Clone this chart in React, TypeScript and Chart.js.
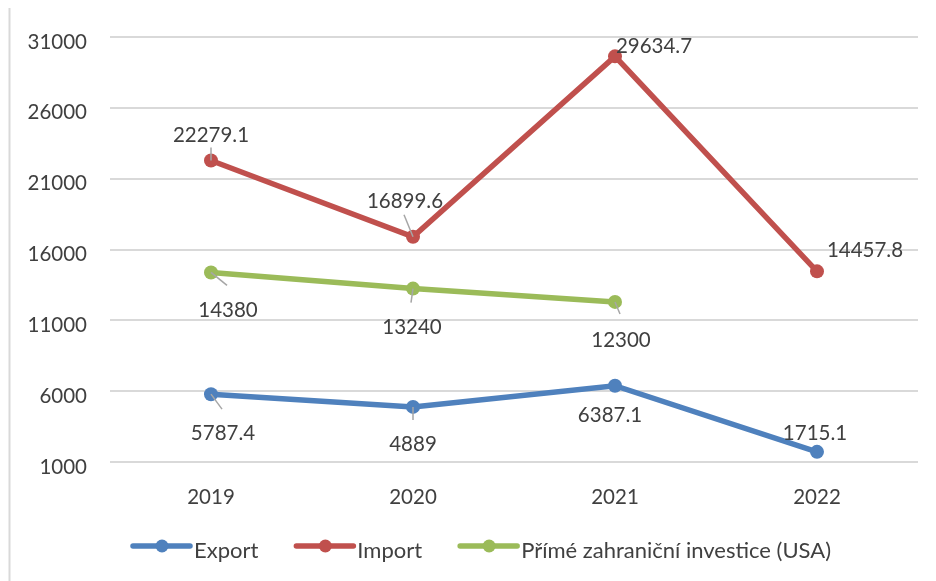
import React, { useEffect, useRef } from "react";
import { Chart, registerables } from "chart.js";

Chart.register(...registerables);

const categories = ["2019", "2020", "2021", "2022"];
const exportValues = [5787.4, 4889, 6387.1, 1715.1];
const importValues = [22279.1, 16899.6, 29634.7, 14457.8];
const fdiValues: (number | null)[] = [14380, 13240, 12300, null];
const seriesNames = ["Export", "Import", "Přímé zahraniční investice (USA)"];
const yTicks = [1000, 6000, 11000, 16000, 21000, 26000, 31000];

const COLORS = ["#4F81BD", "#C0504D", "#9BBB59"];
const TEXT = "#404040";
const FONT = "Lato";

// label placement (centre offset from point) and optional leader end offset
const labelOffsets: [number, number][][] = [
  [[12, 39], [0, 37], [-5, 30], [-2, -18]],
  [[0, -25], [-8, -35], [39, -10], [48, -21]],
  [[17, 38], [-1, 39], [6, 38], [0, 0]],
];
const leaderEnds: ([number, number] | null)[][] = [
  [[11, 15], [0, 13], null, null],
  [[0, -13], [-9, -22], null, null],
  [[16, 13], [-2, 14], [5, 12], null],
];

const fmt = (v: number) => String(v);

const decorPlugin = {
  id: "decor",
  beforeDraw(chart: any) {
    const ctx = chart.ctx;
    ctx.save();
    ctx.strokeStyle = "#D9D9D9";
    ctx.lineWidth = 2;
    ctx.beginPath();
    ctx.moveTo(9.5, 8);
    ctx.lineTo(9.5, 581);
    ctx.stroke();
    ctx.restore();
  },
  afterDatasetsDraw(chart: any) {
    const ctx = chart.ctx;
    ctx.save();
    chart.data.datasets.forEach((ds: any, i: number) => {
      const meta = chart.getDatasetMeta(i);
      meta.data.forEach((pt: any, j: number) => {
        const v = ds.data[j];
        if (v === null || v === undefined) return;
        const le = leaderEnds[i][j];
        if (le) {
          ctx.strokeStyle = "#A6A6A6";
          ctx.lineWidth = 1.5;
          ctx.beginPath();
          ctx.moveTo(pt.x, pt.y);
          ctx.lineTo(pt.x + le[0], pt.y + le[1]);
          ctx.stroke();
        }
        const off = labelOffsets[i][j];
        ctx.fillStyle = TEXT;
        ctx.font = `20.5px ${FONT}`;
        ctx.textAlign = "center";
        ctx.textBaseline = "middle";
        ctx.fillText(fmt(v), pt.x + off[0], pt.y + off[1]);
      });
    });
    ctx.restore();
  },
  afterDraw(chart: any) {
    const ctx = chart.ctx;
    ctx.save();
    ctx.font = `22px ${FONT}`;
    let x = 133;
    const lineY = 546;
    const textY = 551;
    seriesNames.forEach((name, i) => {
      ctx.strokeStyle = COLORS[i];
      ctx.lineWidth = 5.5;
      ctx.lineCap = "round";
      ctx.beginPath();
      ctx.moveTo(x, lineY);
      ctx.lineTo(x + 57, lineY);
      ctx.stroke();
      ctx.fillStyle = COLORS[i];
      ctx.beginPath();
      ctx.arc(x + 29, lineY, 6.5, 0, Math.PI * 2);
      ctx.fill();
      ctx.fillStyle = TEXT;
      ctx.textAlign = "left";
      ctx.textBaseline = "middle";
      ctx.fillText(name, x + 61, textY);
      const w = ctx.measureText(name).width;
      x += 61 + w + 38;
    });
    ctx.restore();
  },
};

export default function App() {
  const ref = useRef<HTMLCanvasElement | null>(null);
  useEffect(() => {
    if (!ref.current) return;
    const mkDs = (label: string, data: (number | null)[], color: string) => ({
      label,
      data,
      borderColor: color,
      backgroundColor: color,
      borderWidth: 5.5,
      pointRadius: 7,
      pointHoverRadius: 7,
      pointBorderWidth: 0,
      pointBackgroundColor: color,
      tension: 0,
      spanGaps: false,
    });
    const chart = new Chart(ref.current, {
      type: "line",
      data: {
        labels: categories,
        datasets: [
          mkDs(seriesNames[0], exportValues, COLORS[0]),
          mkDs(seriesNames[1], importValues, COLORS[1]),
          mkDs(seriesNames[2], fdiValues, COLORS[2]),
        ],
      },
      options: {
        responsive: false,
        animation: false,
        layout: { padding: { top: 37, right: 18, left: 0, bottom: 0 } },
        plugins: {
          legend: { display: false },
          tooltip: { enabled: false },
        },
        scales: {
          x: {
            offset: true,
            grid: { display: false, drawTicks: false },
            border: { display: false },
            ticks: {
              color: TEXT,
              font: { family: FONT, size: 20.5 },
              padding: 23,
              maxRotation: 0,
            },
            afterFit: (s: any) => {
              s.height = 119;
            },
          },
          y: {
            min: yTicks[0],
            max: yTicks[yTicks.length - 1],
            afterBuildTicks: (s: any) => {
              s.ticks = yTicks.map((v) => ({ value: v }));
            },
            grid: { color: "#D9D9D9", lineWidth: 2, drawTicks: false },
            border: { display: false },
            ticks: {
              color: TEXT,
              font: { family: FONT, size: 20.5 },
              padding: 23,
              labelOffset: 5,
              callback: (v: any) => String(v),
            },
            afterFit: (s: any) => {
              s.width = 110;
            },
          },
        },
      } as any,
      plugins: [decorPlugin],
    });
    return () => chart.destroy();
  }, []);
  return (
    <div style={{ position: "absolute", left: 0, top: 0, width: 936, height: 581, background: "#fff" }}>
      <canvas ref={ref} width={936} height={581} style={{ width: 936, height: 581 }} />
    </div>
  );
}
